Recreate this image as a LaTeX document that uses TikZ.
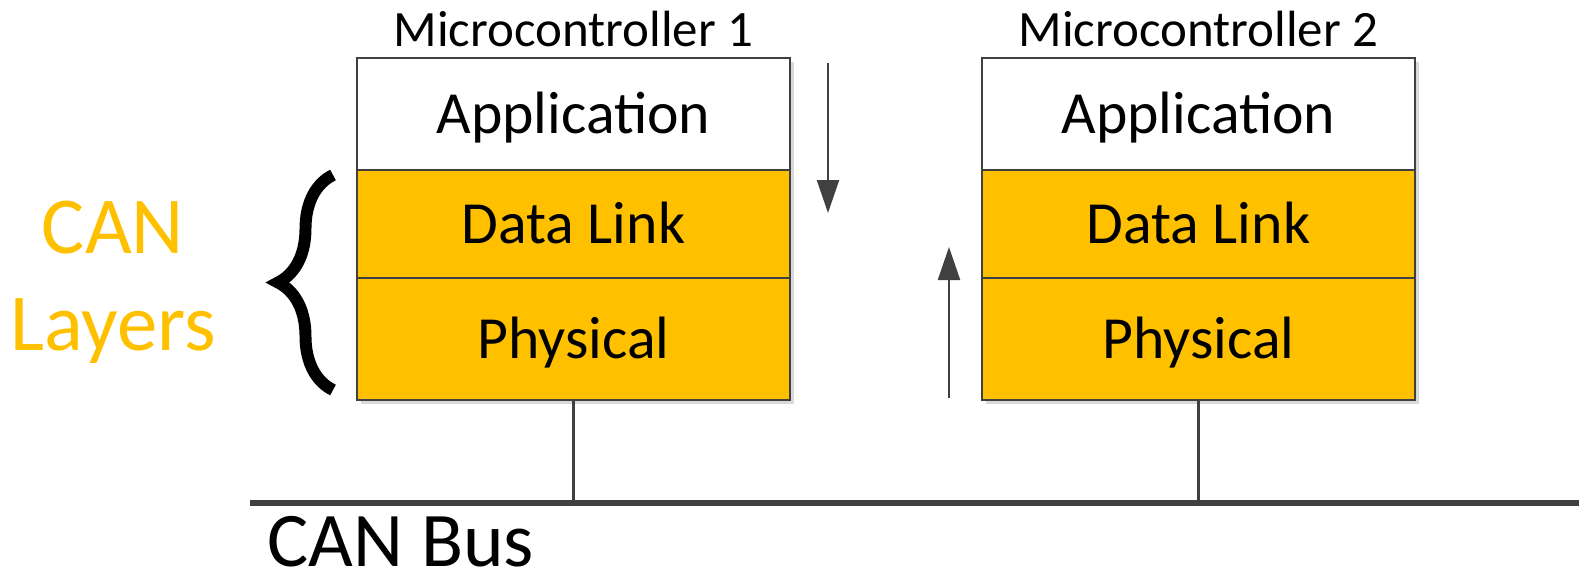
\documentclass[tikz,border=0pt]{standalone}
\usepackage{fontspec}
\setmainfont{Carlito}
\usepackage{tikz}
\usetikzlibrary{positioning, arrows.meta, decorations.pathreplacing, shadows}
\definecolor{cangold}{HTML}{FFC000}
\definecolor{linegray}{HTML}{404040}

\begin{document}
\begin{tikzpicture}[
    x=0.1mm, y=0.1mm,
    layer/.style={draw=linegray, line width=0.6pt, minimum width=43.3mm, inner sep=0pt, outer sep=0pt, text height=11pt, text depth=0pt, font=\fontsize{17}{20}\selectfont, drop shadow={shadow xshift=0.4mm, shadow yshift=-0.4mm, fill=black, opacity=0.15}},
    canlayer/.style={layer, fill=cangold},
    mcu/.style={font=\fontsize{14.5}{17}\selectfont, inner sep=0pt},
    flow/.style={-{Triangle[length=3.3mm, width=2.2mm]}, draw=linegray, line width=0.6pt},
    stub/.style={draw=linegray, line width=0.8pt},
    busline/.style={draw=linegray, line width=1.6pt},
]
\useasboundingbox (0,0) rectangle (1579,576);
\node[layer, fill=white, minimum height=11.2mm] (app1) at (573.5,462) {Application};
\node[canlayer, minimum height=10.8mm, below=0pt of app1] (dl1) {Data Link};
\node[canlayer, minimum height=12.2mm, below=0pt of dl1] (phy1) {Physical};
\node[mcu, above=1mm of app1] (mcu1) {Microcontroller 1};
\node[layer, fill=white, minimum height=11.2mm, right=19.2mm of app1] (app2) {Application};
\node[canlayer, minimum height=10.8mm, below=0pt of app2] (dl2) {Data Link};
\node[canlayer, minimum height=12.2mm, below=0pt of dl2] (phy2) {Physical};
\node[mcu, above=1mm of app2] (mcu2) {Microcontroller 2};
\node[font=\fontsize{23}{27.5}\selectfont, text=cangold, align=center] (canlab) at (113,294) {CAN\\Layers};
\draw[decorate, decoration={brace, amplitude=5.5mm}, line width=3.4pt]
    ([xshift=-2.4mm, yshift=1mm]phy1.south west) -- ([xshift=-2.4mm, yshift=-0.5mm]dl1.north west);
\coordinate (txtop) at (828,513);
\coordinate (txbot) at (828,363);
\coordinate (rxbot) at (949,178);
\coordinate (rxtop) at (949,329);
\draw[flow] (txtop) -- (txbot);
\draw[flow] (rxbot) -- (rxtop);
\coordinate (busw) at (250,73);
\coordinate (buse) at (1579,73);
\draw[busline] (busw) -- (buse);
\draw[stub] (phy1.south) -- (phy1.south |- busw);
\draw[stub] (phy2.south) -- (phy2.south |- busw);
\node[anchor=base west, font=\fontsize{22}{26}\selectfont, inner sep=0pt] (busname) at (267,10) {CAN Bus};
\end{tikzpicture}
\end{document}
